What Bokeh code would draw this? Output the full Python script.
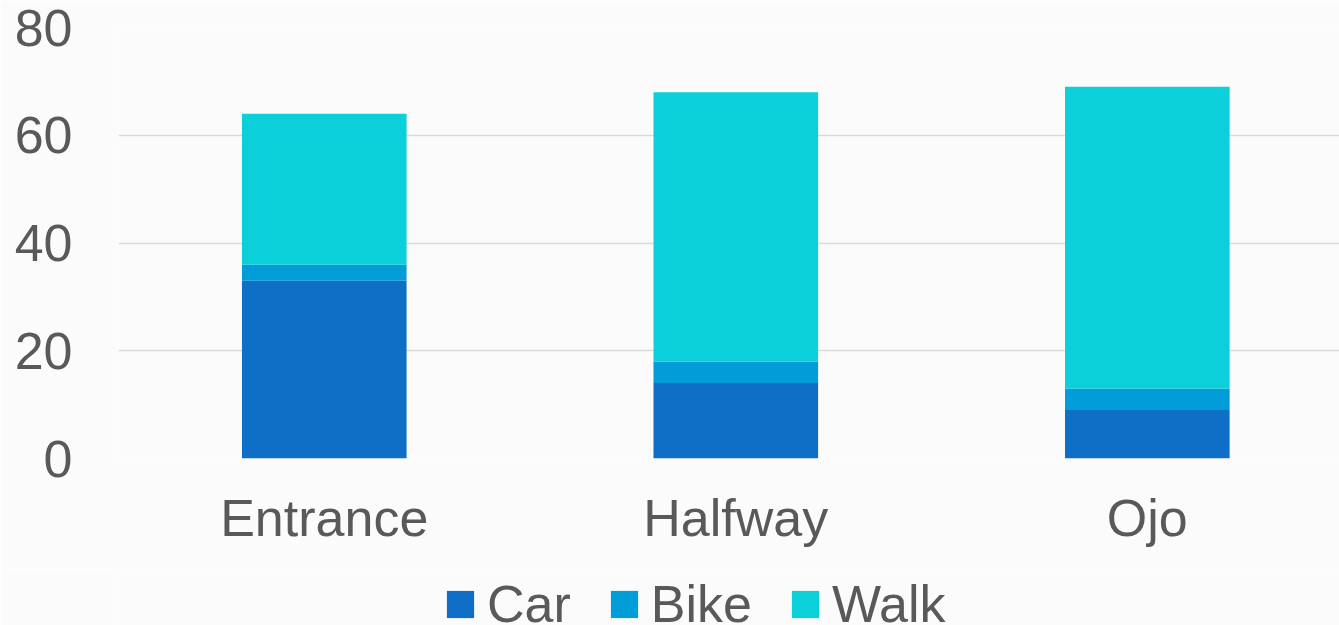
from bokeh.plotting import figure
from bokeh.layouts import column
from bokeh.models import Range1d, FixedTicker, Legend, LegendItem, ColumnDataSource
from bokeh.embed import file_html
from bokeh.resources import INLINE

categories = ["Entrance", "Halfway", "Ojo"]
car = [33, 14, 9]
bike = [3, 4, 4]
walk = [28, 50, 56]
series = ["Car", "Bike", "Walk"]
colors = ["#0F6FC6", "#009DD9", "#0BD0D9"]
y_ticks = [0, 20, 40, 60, 80]

xpos = [i + 0.5 for i in range(len(categories))]
src = ColumnDataSource(dict(x=xpos, Car=car, Bike=bike, Walk=walk))

BG = "#FBFBFB"
TXT = "#595959"
FONT = "Liberation Sans"

W = 1339
H_MAIN = 569
H_LEG = 56

p = figure(width=W, height=H_MAIN, output_backend="svg", toolbar_location=None,
           x_range=Range1d(0, 2.967), y_range=Range1d(0, 80),
           min_border_left=118, min_border_right=0, min_border_top=27,
           min_border_bottom=H_MAIN - 458)
p.background_fill_color = BG
p.border_fill_color = BG
p.outline_line_color = None

p.vbar_stack(series, x="x", width=0.4, source=src, color=colors, line_color=None)

p.xaxis.ticker = FixedTicker(ticks=xpos)
p.xaxis.major_label_overrides = {x: c for x, c in zip(xpos, categories)}
p.yaxis.ticker = FixedTicker(ticks=y_ticks)
for ax in (p.xaxis[0], p.yaxis[0]):
    ax.axis_line_color = None
    ax.major_tick_line_color = None
    ax.minor_tick_line_color = None
    ax.major_tick_out = 0
    ax.major_tick_in = 0
    ax.major_label_text_font = FONT
    ax.major_label_text_font_size = "52px"
    ax.major_label_text_color = TXT
p.yaxis.major_label_standoff = 46
p.xaxis.major_label_standoff = 30

p.xgrid.grid_line_color = None
p.ygrid.grid_line_color = "#D9D9D9"
p.ygrid.grid_line_width = 1.5

# legend strip below the chart (its frame is aligned with the chart's frame)
pl = figure(width=W, height=H_LEG, output_backend="svg", toolbar_location=None,
            x_range=Range1d(0, 1), y_range=Range1d(0, 1),
            x_axis_type=None, y_axis_type=None,
            min_border_left=118, min_border_right=0, min_border_top=0, min_border_bottom=0)
pl.background_fill_color = BG
pl.border_fill_color = BG
pl.outline_line_color = None
pl.xgrid.visible = False
pl.ygrid.visible = False
leg_renderers = [pl.vbar(x=[-10], top=[0], width=0.1, color=c, line_color=None) for c in colors]

legend = Legend(items=[LegendItem(label=s, renderers=[r]) for s, r in zip(series, leg_renderers)],
                orientation="horizontal", location=(325, -9),
                label_text_font=FONT, label_text_font_size="52px",
                label_text_color=TXT, glyph_width=34, glyph_height=34,
                label_standoff=10, spacing=36, padding=0, margin=0,
                background_fill_alpha=0, border_line_color=None)
pl.add_layout(legend, "center")

layout = column(p, pl, spacing=0)
open("out.html", "w").write(file_html(layout, INLINE))
